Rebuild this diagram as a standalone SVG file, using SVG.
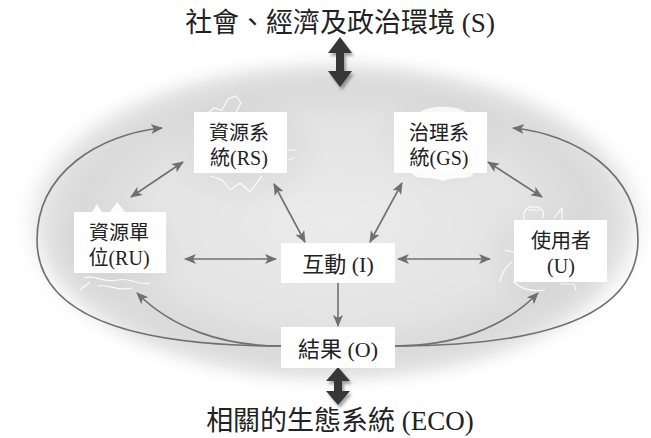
<svg xmlns="http://www.w3.org/2000/svg" width="651" height="438" viewBox="0 0 651 438">
  <defs>
    <radialGradient id="field" cx="0.5" cy="0.5" r="0.5">
      <stop offset="0" stop-color="#ebebeb"/>
      <stop offset="0.6" stop-color="#e3e3e3"/>
      <stop offset="0.8" stop-color="#d9d9d9"/>
      <stop offset="0.9" stop-color="#e4e4e4"/>
      <stop offset="1" stop-color="#ffffff" stop-opacity="0"/>
    </radialGradient>
    <radialGradient id="shade" cx="0.5" cy="0.5" r="0.5">
      <stop offset="0" stop-color="#cfcfcf" stop-opacity="0.7"/>
      <stop offset="1" stop-color="#cfcfcf" stop-opacity="0"/>
    </radialGradient>
    <filter id="soft" x="-20%" y="-20%" width="140%" height="140%">
      <feGaussianBlur stdDeviation="1.5"/>
    </filter>
    <filter id="haze" x="-10%" y="-10%" width="120%" height="120%">
      <feGaussianBlur stdDeviation="6"/>
    </filter>
    <marker id="tip" viewBox="0 0 12 10" refX="11" refY="5" markerWidth="12" markerHeight="10" markerUnits="userSpaceOnUse" orient="auto-start-reverse">
      <path d="M0,0 L12,5 L0,10 L3,5 Z" fill="#6f6f6f"/>
    </marker>
  </defs>
  <style>
    .box { fill: #ffffff; }
    .lbl { font-family: "Liberation Serif", "Noto Sans CJK TC", serif; fill: #222222; text-anchor: middle; }
    .node { font-size: 20px; }
    .mid { font-size: 22px; }
    .title { font-size: 27px; }
    .link { fill: none; stroke: #707070; stroke-width: 1.6; }
    .bi { marker-start: url(#tip); marker-end: url(#tip); }
    .one { marker-end: url(#tip); }
    .big { fill: #373737; }
    .sketch { fill: none; stroke: #ffffff; stroke-width: 1.2; opacity: 0.9; }
  </style>

  <!-- soft grey field behind the system -->
  <ellipse cx="335" cy="222" rx="324" ry="170" fill="url(#field)" filter="url(#haze)"/>
  <ellipse cx="245" cy="150" rx="80" ry="60" fill="url(#shade)"/>
  <ellipse cx="545" cy="255" rx="70" ry="60" fill="url(#shade)"/>
  <ellipse cx="115" cy="250" rx="70" ry="55" fill="url(#shade)"/>
  <ellipse cx="440" cy="140" rx="70" ry="50" fill="url(#shade)"/>

  <!-- faint white sketches behind the boxes -->
  <g id="sketches">
    <path d="M200,120 L214,108 L222,110 L228,99 L236,96 L241,103 L236,112" class="sketch"/>
    <path d="M210,176 L222,180 L230,190 L240,183 L250,192 L262,176" class="sketch"/>
    <path d="M287,150 L296,150 M287,160 L294,158" class="sketch"/>
    <path d="M92,212 L97,204 L102,212 Z M110,212 L117,202 L125,212 Z" fill="#ffffff" opacity="0.9"/>
    <path d="M84,278 C96,274 104,284 118,280 C130,277 138,286 150,283 M98,286 C110,284 118,292 132,288 M90,282 L80,290" class="sketch"/>
    <path d="M412,173 L474,173 L470,177 C460,178 450,178 443,181 C436,178 426,178 416,177 Z" fill="#ffffff" opacity="0.9"/>
    <path d="M420,112 C430,105 456,105 466,112 Z" fill="#ffffff" opacity="0.8"/>
    <path d="M524,220 C522,212 527,206 533,207 C540,206 545,210 543,218 M528,210 L540,210 M554,218 L562,208 L562,220" class="sketch"/>
    <path d="M512,262 C506,266 502,272 500,282 M505,250 L514,252 M514,282 C520,288 530,292 545,290 M560,284 L574,284 L576,290" class="sketch"/>
  </g>

  <!-- connectors -->
  <g id="connectors">
    <line x1="183" y1="162" x2="131" y2="197" class="link bi"/>
    <line x1="274" y1="184" x2="305" y2="242" class="link bi"/>
    <line x1="185" y1="259" x2="276" y2="259" class="link bi"/>
    <line x1="402" y1="183" x2="370" y2="242" class="link bi"/>
    <line x1="488" y1="162" x2="542" y2="197" class="link bi"/>
    <line x1="398" y1="259" x2="490" y2="259" class="link bi"/>
    <line x1="338" y1="283" x2="338" y2="326" class="link one"/>
    <path d="M281,346 C190,346 37,336 37,240 C37,172 100,134 162,128" class="link one"/>
    <path d="M281,346 C222,346 172,328 137,293" class="link one"/>
    <path d="M395,346 C486,346 638,336 638,240 C638,172 575,134 513,128" class="link one"/>
    <path d="M395,346 C454,346 504,328 538,293" class="link one"/>
  </g>

  <!-- links to the surrounding settings -->
  <g id="outer-links" filter="url(#soft)" opacity="0.35">
    <path d="M342,40 L354,56 L346,56 L346,74 L354,74 L342,90 L330,74 L338,74 L338,56 L330,56 Z" fill="#000"/>
    <path d="M340,370 L352,384 L344,384 L344,394 L352,394 L340,408 L328,394 L336,394 L336,384 L328,384 Z" fill="#000"/>
  </g>
  <g id="outer-arrows">
    <path d="M340,37 L352,53 L344,53 L344,71 L352,71 L340,87 L328,71 L336,71 L336,53 L328,53 Z" class="big"/>
    <path d="M338,367 L350,381 L342,381 L342,391 L350,391 L338,405 L326,391 L334,391 L334,381 L326,381 Z" class="big"/>
  </g>

  <g id="S">
    <text x="340" y="32" class="lbl title">社會、經濟及政治環境 (S)</text>
  </g>

  <g id="ECO">
    <text x="340" y="430" class="lbl title">相關的生態系統 (ECO)</text>
  </g>

  <g id="RS">
    <rect x="194" y="112" width="93" height="61" class="box"/>
    <text x="239" y="140" class="lbl node">資源系</text>
    <text x="239" y="165" class="lbl node">統(RS)</text>
  </g>

  <g id="GS">
    <rect x="394" y="112" width="93" height="61" class="box"/>
    <text x="439" y="140" class="lbl node">治理系</text>
    <text x="439" y="165" class="lbl node">統(GS)</text>
  </g>

  <g id="RU">
    <rect x="74" y="212" width="92" height="61" class="box"/>
    <text x="119" y="240" class="lbl node">資源單</text>
    <text x="119" y="265" class="lbl node">位(RU)</text>
  </g>

  <g id="U">
    <rect x="514" y="220" width="93" height="62" class="box"/>
    <text x="561" y="248" class="lbl node">使用者</text>
    <text x="561" y="273" class="lbl node">(U)</text>
  </g>

  <g id="I">
    <rect x="281" y="243" width="114" height="40" class="box"/>
    <text x="338" y="272" class="lbl mid">互動 (I)</text>
  </g>

  <g id="O">
    <rect x="281" y="327" width="114" height="41" class="box"/>
    <text x="338" y="357" class="lbl mid">結果 (O)</text>
  </g>
</svg>
